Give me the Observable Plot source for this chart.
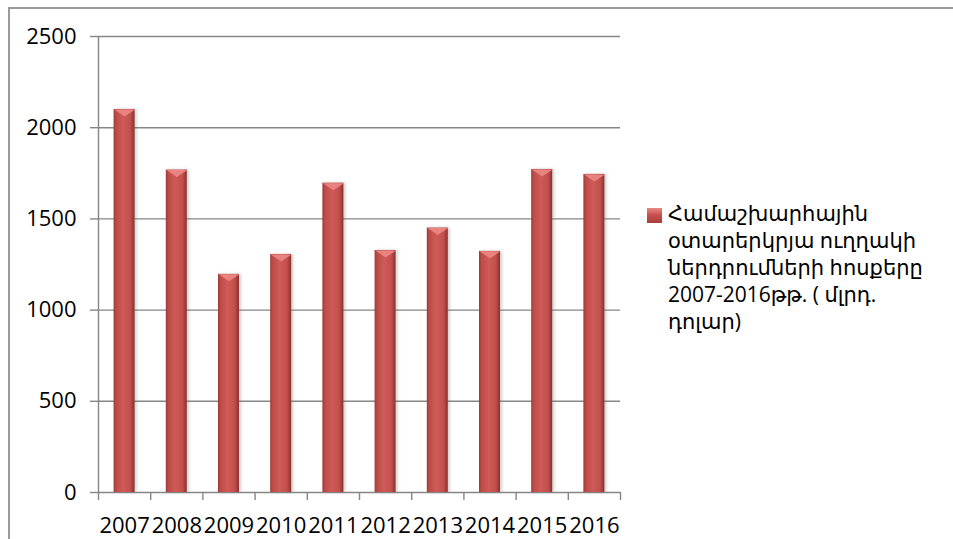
<!DOCTYPE html>
<html>
<head>
<meta charset="utf-8">
<script src="https://cdn.jsdelivr.net/npm/d3@7"></script>
<script src="https://cdn.jsdelivr.net/npm/@observablehq/plot@0.6"></script>
<style>
  html, body { margin: 0; padding: 0; background: #fff; }
  #wrap { position: relative; width: 953px; height: 539px; overflow: hidden; }
  #border { position: absolute; left: 8px; top: 7px; width: 1000px; height: 600px;
            border-left: 2px solid #9a9a9a; border-top: 2px solid #9a9a9a; box-sizing: border-box; }
  #legend { position: absolute; left: 647px; top: 200px; font-family: 'Open Sans','DejaVu Sans',sans-serif;
            font-size: 21px; line-height: 27px; color: #000; }
  #legend .sw { position: absolute; left: 0; top: 8px; width: 15px; height: 15px;
                background: linear-gradient(180deg, #e88a86 0%, #c9524f 45%, #a53e3b 100%); }
  #legend .tx { margin-left: 21px; white-space: nowrap; }
</style>
</head>
<body>
<div id="wrap">
  <div id="border"></div>
  <div id="chart"></div>
  <div id="legend"><div class="sw"></div><div class="tx" id="legtext"></div></div>
</div>
<script>
const years = [2007, 2008, 2009, 2010, 2011, 2012, 2013, 2014, 2015, 2016];
const fdiValues = [2100, 1768, 1196, 1305, 1696, 1327, 1450, 1322, 1771, 1744];
const yTicks = [0, 500, 1000, 1500, 2000, 2500];
const legendLines = ["Համաշխարհային", "օտարերկրյա ուղղակի", "ներդրումների հոսքերը", "2007-2016թթ. ( մլրդ.", "դոլար)"];

const data = years.map((y, i) => ({year: y, value: fdiValues[i]}));
const boundaries = years.map(y => y - 0.5).concat([years[years.length - 1] + 0.5]);

const bevel = {
  draw(context) {
    context.moveTo(-10.5, 0);
    context.lineTo(10.5, 0);
    context.lineTo(0, 7);
    context.closePath();
  }
};

const gray = "#868686";

const chart = Plot.plot({
  width: 953,
  height: 539,
  marginLeft: 98,
  marginRight: 333,
  marginTop: 36,
  marginBottom: 47,
  style: {fontFamily: "'Open Sans','DejaVu Sans',sans-serif", fontSize: "22px", color: "#000", background: "transparent", overflow: "visible"},
  x: {type: "linear", domain: [boundaries[0], boundaries[boundaries.length - 1]]},
  y: {domain: [0, 2500]},
  marks: [
    Plot.gridY(yTicks, {stroke: gray, strokeOpacity: 1, strokeWidth: 1.4}),
    Plot.ruleX([boundaries[0]], {stroke: gray, strokeWidth: 1.4}),
    Plot.axisY(yTicks, {tickSize: 8, tickPadding: 14, stroke: gray, strokeOpacity: 1, strokeWidth: 1.4, fill: "#000", fontSize: 22, label: null, tickFormat: d => String(d)}),
    Plot.axisX(boundaries, {tickSize: 8, stroke: gray, strokeOpacity: 1, strokeWidth: 1.4, text: null, label: null}),
    Plot.axisX(years, {tickSize: 0, tickPadding: 25, fill: "#000", fontSize: 22, label: null, tickFormat: d => String(d)}),
    Plot.rectY(data, {x1: d => d.year - 0.5, x2: d => d.year + 0.5, y: "value", insetLeft: 15.6, insetRight: 15.6, fill: "url(#barGrad)"}),
    Plot.dot(data, {x: "year", y: "value", symbol: bevel, fill: "#e9837f", stroke: "none", r: 5})
  ]
});

const svg = d3.select(chart);
const defs = svg.insert("defs", ":first-child");
const g = defs.append("linearGradient").attr("id", "barGrad").attr("x1", "0").attr("x2", "1").attr("y1", "0").attr("y2", "0");
[["0%", "#9c3936"], ["12%", "#bd4b48"], ["45%", "#cf5b58"], ["80%", "#c14f4c"], ["100%", "#8a302d"]].forEach(([o, c]) => g.append("stop").attr("offset", o).attr("stop-color", c));
const f = defs.append("filter").attr("id", "sh").attr("x", "-30%").attr("width", "160%");
f.append("feDropShadow").attr("dx", 2).attr("dy", 0).attr("stdDeviation", 1.5).attr("flood-color", "#777").attr("flood-opacity", 0.35);
svg.selectAll("rect").filter(function() { return this.getAttribute("fill") === "url(#barGrad)" || (this.parentNode && this.parentNode.getAttribute("fill") === "url(#barGrad)"); }).attr("filter", "url(#sh)");

document.getElementById("chart").appendChild(chart);
document.getElementById("legtext").innerHTML = legendLines.join("<br>");
</script>
</body>
</html>
